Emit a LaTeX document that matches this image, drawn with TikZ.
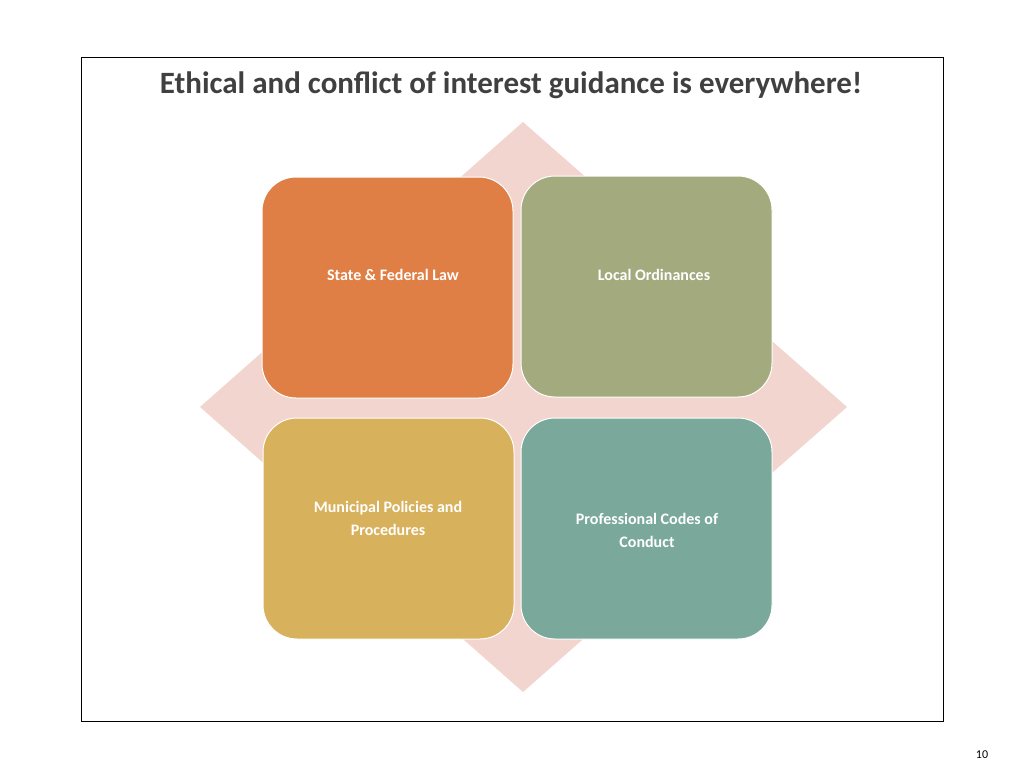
\documentclass[tikz,border=0pt]{standalone}
\usepackage{fontspec}
\setmainfont{Carlito}
\begin{document}
\begin{tikzpicture}[x=1pt,y=-1pt,
  box/.style={draw=white,line width=1pt,rounded corners=34pt},
  lbl/.style={text=white,font=\bfseries\fontsize{16}{23}\selectfont,align=center}]
\useasboundingbox (0,0) rectangle (1024,768);
\draw[black,line width=0.8pt] (81,57) rectangle (943,721);
\node[font=\bfseries\fontsize{31}{36}\selectfont,text=black!75] (title) at (511,85) {Ethical and conflict of interest guidance is everywhere!};
\fill[fill={rgb,255:red,242;green,213;blue,207}] (523,122) -- (847,407) -- (523,692) -- (200,407) -- cycle;
\filldraw[box,fill={rgb,255:red,223;green,127;blue,69}] (262,177) rectangle (513,398);
\filldraw[box,fill={rgb,255:red,163;green,170;blue,126}] (521,176) rectangle (772,397);
\filldraw[box,fill={rgb,255:red,215;green,177;blue,92}] (263,418) rectangle (514,639);
\filldraw[box,fill={rgb,255:red,122;green,168;blue,154}] (521,418) rectangle (772,639);
\node[lbl] (a) at (393,275) {State \& Federal Law};
\node[lbl] (b) at (654,275) {Local Ordinances};
\node[lbl] (c) at (388,518) {Municipal Policies and\\Procedures};
\node[lbl] (d) at (647,530) {Professional Codes of\\Conduct};
\node[font=\fontsize{12}{14}\selectfont] (p) at (982,755) {10};
\end{tikzpicture}
\end{document}
